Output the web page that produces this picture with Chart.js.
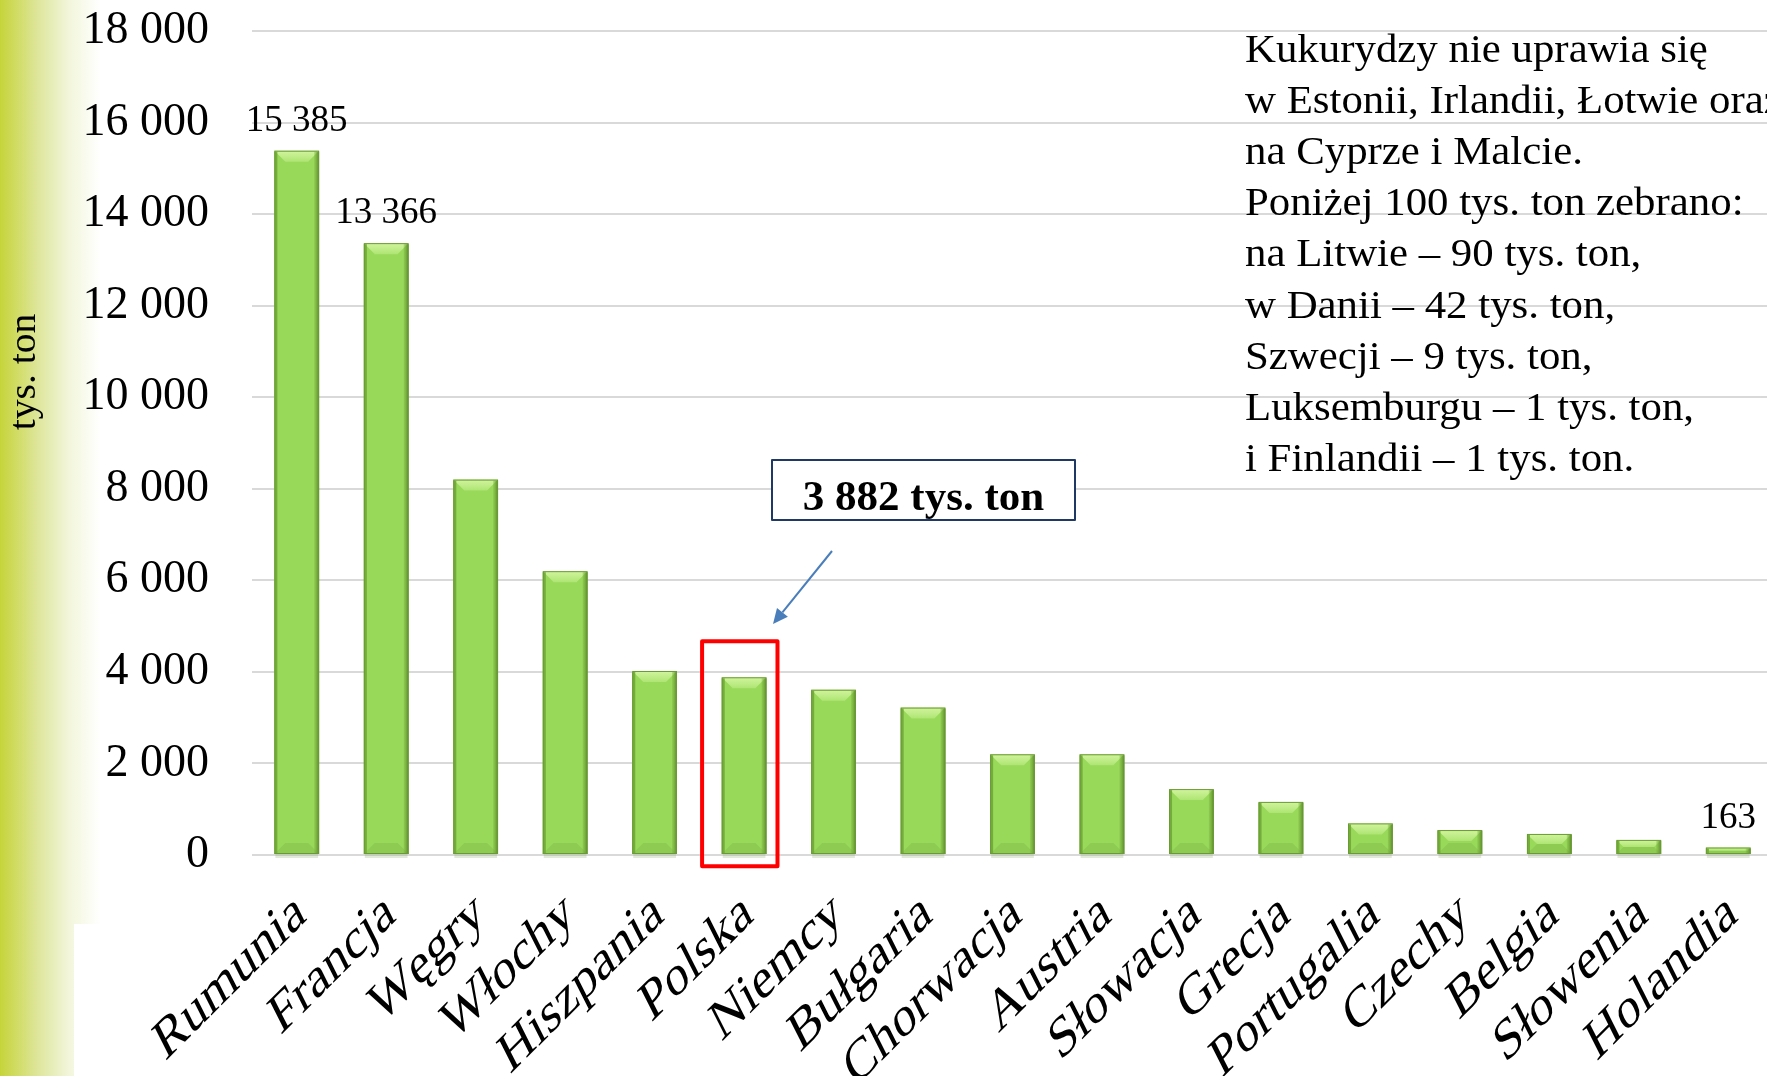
<!DOCTYPE html>
<html>
<head>
<meta charset="utf-8">
<script src="https://cdn.jsdelivr.net/npm/chart.js@4.4.1/dist/chart.umd.min.js"></script>
<style>
  html, body { margin: 0; padding: 0; overflow: hidden; background: #fff; }
  canvas { display: block; }
</style>
</head>
<body>
<canvas id="c" width="1773" height="1076"></canvas>
<script>
// ---- data ----
const categories = ['Rumunia','Francja','Węgry','Włochy','Hiszpania','Polska','Niemcy','Bułgaria','Chorwacja','Austria','Słowacja','Grecja','Portugalia','Czechy','Belgia','Słowenia','Holandia'];
const values = [15385, 13366, 8200, 6200, 4020, 3882, 3610, 3220, 2200, 2200, 1440, 1160, 690, 545, 460, 330, 163];
const labeledIndices = [0, 1, 16];
const yMin = 0, yMax = 18000, yStep = 2000;
const axisTitle = 'tys. ton';
const highlightIndex = 5;
const highlightText = '3 882 tys. ton';
const noteLines = [
  'Kukurydzy nie uprawia się',
  'w Estonii, Irlandii, Łotwie oraz',
  'na Cyprze i Malcie.',
  'Poniżej 100 tys. ton zebrano:',
  'na Litwie – 90 tys. ton,',
  'w Danii – 42 tys. ton,',
  'Szwecji – 9 tys. ton,',
  'Luksemburgu – 1 tys. ton,',
  'i Finlandii – 1 tys. ton.'
];

const SERIF = '"Liberation Serif", "Times New Roman", serif';
const fmt = v => String(v).replace(/\B(?=(\d{3})+(?!\d))/g, ' ');

const bgPlugin = {
  id: 'bg',
  beforeDraw(chart) {
    const ctx = chart.ctx;
    ctx.save();
    ctx.fillStyle = '#fff';
    ctx.fillRect(0, 0, chart.width, chart.height);
    const g = ctx.createLinearGradient(0, 0, 100, 0);
    g.addColorStop(0, 'rgb(198,212,58)');
    g.addColorStop(0.4, 'rgb(223,231,160)');
    g.addColorStop(0.7, 'rgb(243,246,220)');
    g.addColorStop(1, 'rgb(255,255,255)');
    ctx.fillStyle = g;
    ctx.fillRect(0, 0, 100, chart.height);
    ctx.fillStyle = '#fff';
    ctx.fillRect(74, 924, 60, chart.height - 924);
    ctx.restore();
  }
};

const bevelPlugin = {
  id: 'bevel',
  afterDatasetsDraw(chart) {
    const ctx = chart.ctx;
    const meta = chart.getDatasetMeta(0);
    ctx.save();
    meta.data.forEach(el => {
      const p = el.getProps(['x', 'y', 'base', 'width'], true);
      const l = p.x - p.width / 2, r = p.x + p.width / 2, t = p.y, b = p.base;
      const h = b - t;
      const bv = Math.min(11, h / 2, p.width / 2);
      ctx.fillStyle = 'rgba(120,160,80,0.22)';
      ctx.fillRect(l + 1, b, p.width - 2, 4);
      ctx.fillStyle = '#8dcb53';
      ctx.beginPath();
      ctx.moveTo(l, b); ctx.lineTo(r, b); ctx.lineTo(r - bv, b - bv); ctx.lineTo(l + bv, b - bv); ctx.closePath();
      ctx.fill();
      const gt = ctx.createLinearGradient(0, t, 0, t + bv);
      gt.addColorStop(0, '#d2f59e');
      gt.addColorStop(1, '#aee573');
      ctx.fillStyle = gt;
      ctx.beginPath();
      ctx.moveTo(l, t); ctx.lineTo(r, t); ctx.lineTo(r - bv, t + bv); ctx.lineTo(l + bv, t + bv); ctx.closePath();
      ctx.fill();
      ctx.fillStyle = 'rgba(110,165,55,0.85)';
      ctx.fillRect(l, t + 1, 3, h - 1);
      const gr = ctx.createLinearGradient(r - 5, 0, r, 0);
      gr.addColorStop(0, 'rgba(120,175,60,0.3)');
      gr.addColorStop(1, 'rgba(85,130,40,0.95)');
      ctx.fillStyle = gr;
      ctx.fillRect(r - 5, t + 1, 5, h - 1);
      ctx.strokeStyle = '#6a9a35';
      ctx.lineWidth = 1;
      ctx.strokeRect(l + 0.5, t + 0.5, p.width - 1, h - 1);
    });
    ctx.fillStyle = '#000';
    ctx.font = '37px ' + SERIF;
    ctx.textAlign = 'center';
    ctx.textBaseline = 'alphabetic';
    labeledIndices.forEach(i => {
      const el = meta.data[i];
      ctx.fillText(fmt(values[i]), el.x, el.y - 20);
    });
    ctx.restore();
  }
};

const textPlugin = {
  id: 'texts',
  afterDraw(chart) {
    const ctx = chart.ctx;
    const xs = chart.scales.x;
    const ys = chart.scales.y;
    ctx.save();
    // category labels (rotated, slanted)
    ctx.fillStyle = '#000';
    ctx.font = '50px ' + SERIF;
    ctx.textAlign = 'right';
    ctx.textBaseline = 'alphabetic';
    xs.getLabels().forEach((lab, i) => {
      const px = xs.getPixelForValue(i);
      ctx.save();
      ctx.translate(px + 11, ys.bottom + 64);
      ctx.rotate(-Math.PI / 4);
      ctx.scale(1.1, 1);
      ctx.transform(1, 0, -0.3, 1, 0, 0);
      ctx.fillText(lab, 0, 0);
      ctx.restore();
    });
    // axis title
    ctx.save();
    ctx.font = '37px ' + SERIF;
    ctx.textAlign = 'center';
    ctx.textBaseline = 'middle';
    ctx.translate(25, 372);
    ctx.rotate(-Math.PI / 2);
    ctx.scale(1.07, 1);
    ctx.fillText(axisTitle, 0, 0);
    ctx.restore();
    // note text
    ctx.save();
    ctx.font = '41px ' + SERIF;
    ctx.textAlign = 'left';
    ctx.translate(1245, 0);
    ctx.scale(1.045, 1);
    noteLines.forEach((ln, i) => ctx.fillText(ln, 0, 62 + i * 51.1));
    ctx.restore();
    // highlight red box around the highlighted bar
    const hx = xs.getPixelForValue(highlightIndex);
    ctx.strokeStyle = '#ff0000';
    ctx.lineWidth = 4;
    ctx.lineJoin = 'round';
    ctx.strokeRect(hx - 42, 641.3, 75.4, 225);
    // value box
    ctx.fillStyle = '#fff';
    ctx.fillRect(772, 460, 303, 60);
    ctx.strokeStyle = '#1f3864';
    ctx.lineWidth = 2;
    ctx.strokeRect(772, 460, 303, 60);
    ctx.fillStyle = '#000';
    ctx.font = 'bold 43px ' + SERIF;
    ctx.textAlign = 'center';
    ctx.fillText(highlightText, 923.5, 510);
    // arrow
    const x1 = 832, y1 = 551, x2 = 773, y2 = 624;
    const ang = Math.atan2(y2 - y1, x2 - x1);
    const hl = 15, hw = 7;
    const bx = x2 - hl * Math.cos(ang), by = y2 - hl * Math.sin(ang);
    ctx.strokeStyle = '#4a7ebb';
    ctx.fillStyle = '#4a7ebb';
    ctx.lineWidth = 2;
    ctx.beginPath(); ctx.moveTo(x1, y1); ctx.lineTo(bx, by); ctx.stroke();
    ctx.beginPath();
    ctx.moveTo(x2, y2);
    ctx.lineTo(bx + hw * Math.sin(ang), by - hw * Math.cos(ang));
    ctx.lineTo(bx - hw * Math.sin(ang), by + hw * Math.cos(ang));
    ctx.closePath(); ctx.fill();
    ctx.restore();
  }
};

new Chart(document.getElementById('c'), {
  type: 'bar',
  data: {
    labels: categories,
    datasets: [{
      data: values,
      backgroundColor: '#98d95a',
      borderWidth: 0,
      categoryPercentage: 1,
      barPercentage: 0.5
    }]
  },
  options: {
    responsive: false,
    animation: false,
    devicePixelRatio: 1,
    layout: { padding: { top: 31, left: 0, right: 0, bottom: 0 } },
    plugins: { legend: { display: false }, tooltip: { enabled: false } },
    scales: {
      x: {
        grid: { display: false },
        border: { display: false },
        ticks: { display: false },
        afterFit(s) { s.height = 221; }
      },
      y: {
        min: yMin, max: yMax,
        ticks: {
          stepSize: yStep,
          color: '#000',
          padding: 0,
          font: { family: SERIF, size: 46 },
          callback: v => fmt(v)
        },
        grid: { color: '#d9d9d9', lineWidth: 2, drawTicks: true, tickLength: 43, tickColor: 'rgba(0,0,0,0)' },
        border: { display: false },
        afterFit(s) { s.width = 252; }
      }
    }
  },
  plugins: [bgPlugin, bevelPlugin, textPlugin]
});
</script>
</body>
</html>
